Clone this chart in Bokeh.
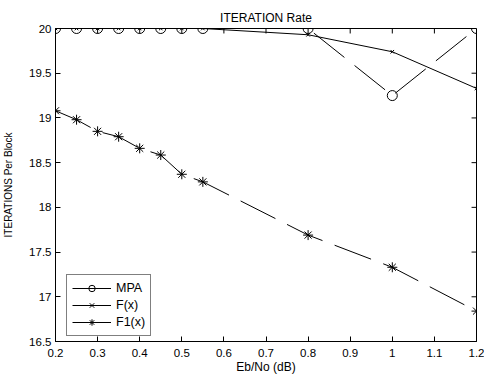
from bokeh.plotting import figure
from bokeh.models import Legend, LegendItem, FixedTicker, Range1d
from bokeh.embed import file_html
from bokeh.resources import INLINE

x = [0.2, 0.25, 0.3, 0.35, 0.4, 0.45, 0.5, 0.55, 0.8, 1.0, 1.2]
mpa = [20, 20, 20, 20, 20, 20, 20, 20, 20, 19.25, 20]
fx = [20, 20, 20, 20, 20, 20, 20, 20, 19.93, 19.74, 19.33]
f1x = [19.08, 18.98, 18.85, 18.79, 18.66, 18.585, 18.37, 18.285, 17.69, 17.33, 16.84]

x_ticks = [0.2, 0.3, 0.4, 0.5, 0.6, 0.7, 0.8, 0.9, 1.0, 1.1, 1.2]
y_ticks = [16.5, 17, 17.5, 18, 18.5, 19, 19.5, 20]
x_labels = {0.2: "0.2", 0.3: "0.3", 0.4: "0.4", 0.5: "0.5", 0.6: "0.6", 0.7: "0.7",
            0.8: "0.8", 0.9: "0.9", 1.0: "1", 1.1: "1.1", 1.2: "1.2"}
y_labels = {16.5: "16.5", 17: "17", 17.5: "17.5", 18: "18", 18.5: "18.5",
            19: "19", 19.5: "19.5", 20: "20"}

FONT = "Liberation Sans"
W, H = 484, 376
BL, BR, BT, BB = 51, 8, 28, 34
X0, X1, Y0, Y1 = 0.2, 1.2, 16.5, 20.0

p = figure(width=W, height=H, output_backend="svg", toolbar_location=None,
           x_range=Range1d(X0, X1), y_range=Range1d(Y0, Y1),
           title="ITERATION Rate", min_border_left=BL, min_border_right=BR,
           min_border_top=BT, min_border_bottom=BB)
p.title.align = "center"
p.title.text_font = FONT
p.title.text_font_size = "12px"
p.title.text_font_style = "normal"
p.title.text_color = "black"
p.title.standoff = 7
p.xgrid.visible = False
p.ygrid.visible = False
p.outline_line_color = "black"
p.outline_line_alpha = 1
p.background_fill_color = "white"
p.border_fill_color = "white"

for ax in (p.xaxis[0], p.yaxis[0]):
    ax.major_tick_in = 5
    ax.major_tick_out = 0
    ax.minor_tick_in = 0
    ax.minor_tick_out = 0
    ax.axis_line_color = "black"
    ax.major_label_text_font = FONT
    ax.major_label_text_font_size = "11.5px"
    ax.major_label_text_color = "black"
    ax.axis_label_text_font = FONT
    ax.axis_label_text_font_size = "12px"
    ax.axis_label_text_font_style = "normal"
    ax.axis_label_text_color = "black"

p.xaxis[0].ticker = FixedTicker(ticks=x_ticks)
p.xaxis[0].major_label_overrides = x_labels
p.xaxis[0].axis_label = "Eb/No (dB)"
p.xaxis[0].major_label_standoff = 7
p.xaxis[0].axis_label_standoff = 0
p.yaxis[0].ticker = FixedTicker(ticks=y_ticks)
p.yaxis[0].major_label_overrides = y_labels
p.yaxis[0].axis_label = "ITERATIONS Per Block"
p.yaxis[0].axis_label_text_font_size = "10px"
p.yaxis[0].major_label_standoff = 4
p.yaxis[0].axis_label_standoff = 12

# inward ticks on the top and right edges of the box
fw = W - BL - BR
fh = H - BT - BB
tlx = 5 * (X1 - X0) / fw
tly = 5 * (Y1 - Y0) / fh
p.segment(x0=x_ticks, y0=[Y1] * len(x_ticks), x1=x_ticks, y1=[Y1 - tly] * len(x_ticks),
          line_color="black", line_width=1)
p.segment(x0=[X1] * len(y_ticks), y0=y_ticks, x1=[X1 - tlx] * len(y_ticks), y1=y_ticks,
          line_color="black", line_width=1)

l1 = p.line(x, mpa, line_color="black", line_width=1, line_dash="39 13")
m1 = p.scatter(x, mpa, marker="circle", size=10, fill_color=None, line_color="black", line_width=1)
l2 = p.line(x, fx, line_color="black", line_width=1)
m2 = p.scatter(x, fx, marker="x", size=5, line_color="black", line_width=1)
l3 = p.line(x, f1x, line_color="black", line_width=1, line_dash="39 13")
m3 = p.scatter(x, f1x, marker="asterisk", size=10, line_color="black", line_width=1)

legend = Legend(items=[LegendItem(label="MPA", renderers=[l1, m1]),
                       LegendItem(label="F(x)", renderers=[l2, m2]),
                       LegendItem(label="F1(x)", renderers=[l3, m3])],
                location=(11, 5), label_text_font=FONT, label_text_font_size="12.5px",
                label_text_color="black",
                glyph_width=39, glyph_height=16, label_height=16, spacing=1,
                padding=5, margin=0, label_standoff=5,
                border_line_color="black", border_line_width=1,
                background_fill_alpha=1)
p.add_layout(legend, "center")

open("out.html", "w").write(file_html(p, INLINE))
